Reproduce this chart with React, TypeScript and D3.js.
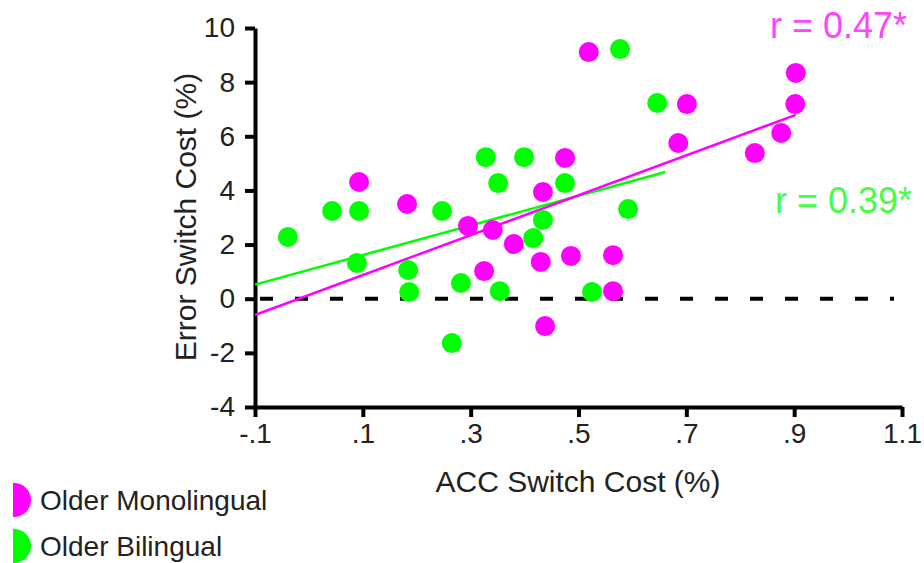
import React, { useEffect, useRef } from "react";
import * as d3 from "d3";

// ACC switch cost (x) and error switch cost (y)
const monoX = [0.519, 0.903, 0.701, 0.902, 0.685, 0.876, 0.827, 0.475, 0.093, 0.434, 0.182, 0.295, 0.341, 0.38, 0.43, 0.486, 0.564, 0.325, 0.564, 0.438];
const monoY = [9.11, 8.34, 7.19, 7.19, 5.75, 6.12, 5.38, 5.2, 4.31, 3.94, 3.5, 2.69, 2.54, 2.02, 1.36, 1.58, 1.61, 1.02, 0.28, -1.01];
const biliX = [0.577, 0.646, 0.328, 0.399, 0.351, 0.475, 0.043, 0.093, 0.247, 0.592, -0.039, 0.434, 0.416, 0.089, 0.184, 0.186, 0.282, 0.354, 0.525, 0.265];
const biliY = [9.22, 7.23, 5.23, 5.23, 4.27, 4.27, 3.24, 3.24, 3.24, 3.31, 2.28, 2.91, 2.24, 1.32, 1.06, 0.25, 0.58, 0.28, 0.25, -1.64];

// fitted lines (endpoints)
const monoFitX = [-0.1, 0.903];
const monoFitY = [-0.6, 6.79];
const biliFitX = [-0.1, 0.661];
const biliFitY = [0.52, 4.68];

const xTicks = [-0.1, 0.1, 0.3, 0.5, 0.7, 0.9, 1.1];
const xTickLabels = ["-.1", ".1", ".3", ".5", ".7", ".9", "1.1"];
const yTicks = [-4, -2, 0, 2, 4, 6, 8, 10];

const groups = ["Older Monolingual", "Older Bilingual"];
const rLabels = ["r = 0.47*", "r = 0.39*"];

const MAGENTA = "#ff00ff";
const GREEN = "#00ff00";
const FONT = "'Liberation Sans', Arial, sans-serif";

const W = 924;
const H = 563;

export default function App() {
  const svgRef = useRef<SVGSVGElement>(null);

  useEffect(() => {
    const svg = d3.select(svgRef.current);
    svg.selectAll("*").remove();

    const x = d3.scaleLinear().domain([-0.1, 1.1]).range([255, 902]);
    const y = d3.scaleLinear().domain([-4, 10]).range([407, 28]);

    // axes
    const yAxis = svg
      .append("g")
      .attr("transform", `translate(${x(-0.1)},0)`)
      .call(d3.axisLeft(y).tickValues(yTicks).tickSize(10).tickSizeOuter(0).tickPadding(10).tickFormat((d) => `${d}`));
    const xAxis = svg
      .append("g")
      .attr("transform", `translate(0,${y(-4)})`)
      .call(
        d3
          .axisBottom(x)
          .tickValues(xTicks)
          .tickSize(10)
          .tickSizeOuter(0)
          .tickPadding(6)
          .tickFormat((d, i) => xTickLabels[i])
      );
    [yAxis, xAxis].forEach((g) => {
      g.select(".domain").attr("stroke", "#000").attr("stroke-width", 4);
      g.selectAll(".tick line").attr("stroke", "#000").attr("stroke-width", 4);
      g.selectAll(".tick text").attr("fill", "#222").style("font-size", "28px").style("font-family", FONT);
    });

    // zero reference line
    svg
      .append("line")
      .attr("x1", x(-0.1) + 5)
      .attr("x2", x(1.1) - 8)
      .attr("y1", y(0))
      .attr("y2", y(0))
      .attr("stroke", "#000")
      .attr("stroke-width", 4)
      .attr("stroke-dasharray", "13 22");

    // fit lines
    const line = d3
      .line<number>()
      .x((d) => x(d[0]))
      .y((d) => y(d[1]));
    svg
      .append("path")
      .attr("d", line(d3.zip(biliFitX, biliFitY) as any))
      .attr("stroke", GREEN)
      .attr("stroke-width", 2.5)
      .attr("fill", "none");
    svg
      .append("path")
      .attr("d", line(d3.zip(monoFitX, monoFitY) as any))
      .attr("stroke", MAGENTA)
      .attr("stroke-width", 2.5)
      .attr("fill", "none");

    // points
    svg
      .append("g")
      .selectAll("circle")
      .data(d3.zip(monoX, monoY))
      .enter()
      .append("circle")
      .attr("cx", (d) => x(d[0]))
      .attr("cy", (d) => y(d[1]))
      .attr("r", 10)
      .attr("fill", MAGENTA);
    svg
      .append("g")
      .selectAll("circle")
      .data(d3.zip(biliX, biliY))
      .enter()
      .append("circle")
      .attr("cx", (d) => x(d[0]))
      .attr("cy", (d) => y(d[1]))
      .attr("r", 10)
      .attr("fill", GREEN);

    // r values
    svg
      .append("text")
      .attr("x", 770)
      .attr("y", 38)
      .attr("fill", "#ff44ff")
      .style("font-size", "36px")
      .style("font-family", FONT)
      .text(rLabels[0]);
    svg
      .append("text")
      .attr("x", 775)
      .attr("y", 213)
      .attr("fill", "#44ff44")
      .style("font-size", "36px")
      .style("font-family", FONT)
      .text(rLabels[1]);

    // axis titles
    svg
      .append("text")
      .attr("x", 578)
      .attr("y", 492)
      .attr("text-anchor", "middle")
      .attr("fill", "#222")
      .style("font-size", "30px")
      .style("font-family", FONT)
      .text("ACC Switch Cost (%)");
    svg
      .append("text")
      .attr("transform", `translate(196,217) rotate(-90)`)
      .attr("text-anchor", "middle")
      .attr("fill", "#222")
      .style("font-size", "30px")
      .style("font-family", FONT)
      .text("Error Switch Cost (%)");

    // legend
    svg
      .append("clipPath")
      .attr("id", "legclip")
      .append("rect")
      .attr("x", 13)
      .attr("y", 470)
      .attr("width", 40)
      .attr("height", 93);
    const colors = [MAGENTA, GREEN];
    const legY = [500, 546];
    groups.forEach((name, i) => {
      svg
        .append("circle")
        .attr("cx", 14)
        .attr("cy", legY[i])
        .attr("r", 17)
        .attr("fill", colors[i])
        .attr("clip-path", "url(#legclip)");
      svg
        .append("text")
        .attr("x", 40)
        .attr("y", legY[i] + 10)
        .attr("fill", "#222")
        .style("font-size", "28px")
        .style("font-family", FONT)
        .text(name);
    });
  }, []);

  return (
    <div style={{ position: "absolute", left: 0, top: 0 }}>
      <svg ref={svgRef} width={W} height={H} style={{ display: "block", background: "#fff" }}></svg>
    </div>
  );
}
